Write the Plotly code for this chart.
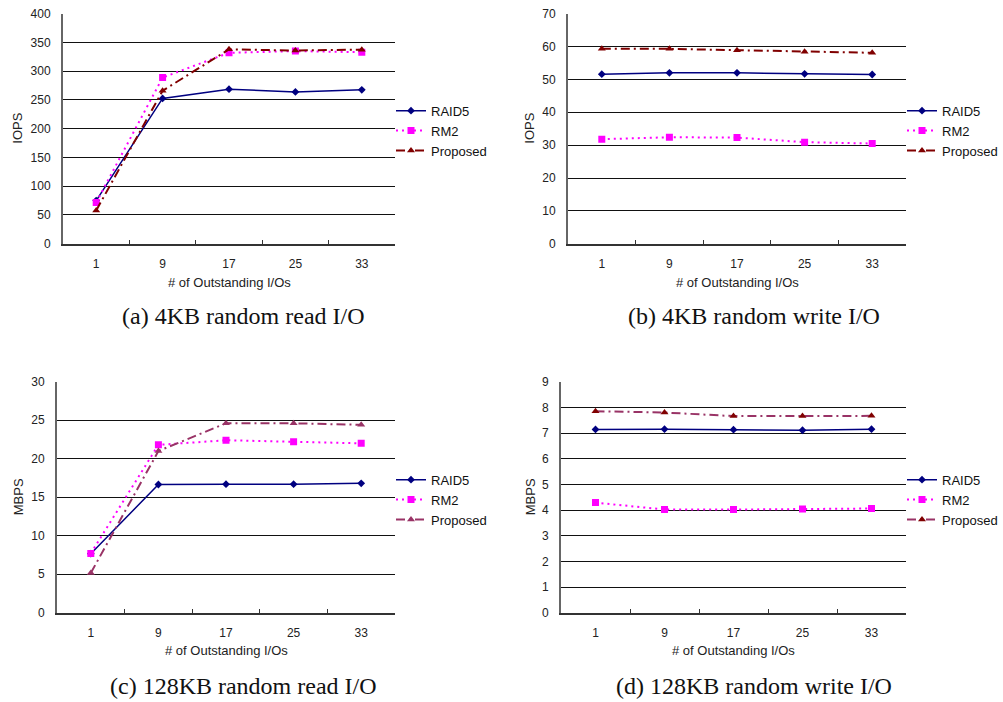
import plotly.graph_objects as go

W, H = 1003, 702

categories = ["1", "9", "17", "25", "33"]
series_names = ["RAID5", "RM2", "Proposed"]

# (a) 4KB random read - IOPS
a_raid5 = [75, 252.6, 268.8, 264, 267.6]
a_rm2 = [71.7, 289, 332, 335, 333]
a_prop = [57.8, 266, 338, 336, 337.5]
# (b) 4KB random write - IOPS
b_raid5 = [51.6, 52.0, 52.0, 51.7, 51.5]
b_rm2 = [31.8, 32.4, 32.3, 30.9, 30.5]
b_prop = [59.3, 59.3, 58.9, 58.4, 58.1]
# (c) 128KB random read - MBPS
c_raid5 = [7.67, 16.65, 16.7, 16.7, 16.8]
c_rm2 = [7.7, 21.8, 22.4, 22.2, 22.0]
c_prop = [5.16, 21.0, 24.6, 24.6, 24.4]
# (d) 128KB random write - MBPS
d_raid5 = [7.14, 7.15, 7.13, 7.11, 7.15]
d_rm2 = [4.29, 4.02, 4.02, 4.04, 4.06]
d_prop = [7.85, 7.80, 7.66, 7.66, 7.67]

captions = ["(a) 4KB random read I/O", "(b) 4KB random write I/O",
            "(c) 128KB random read I/O", "(d) 128KB random write I/O"]
ytitles = ["IOPS", "IOPS", "MBPS", "MBPS"]
xtitle = "# of Outstanding I/Os"
yranges = [(0, 400, 50), (0, 70, 10), (0, 30, 5), (0, 9, 1)]


def vy(y):
    # vertical pixel placement
    return (y - 6.3) / 0.98


# pixel boxes: left, right, top, bottom
boxes = [(63, 395, 13, 243), (568, 906, 13, 243), (57, 395, 381, 612), (561, 906, 381, 612)]
caption_dx = [14, 17, 17, 20]
caption_y = [315, 315, 685, 685]
xtitle_y = [282, 282, 650, 650]
ytitle_x = [18, 530, 18, 530]
legend_top = [95, 95, 464, 464]

data = [(a_raid5, a_rm2, a_prop), (b_raid5, b_rm2, b_prop),
        (c_raid5, c_rm2, c_prop), (d_raid5, d_rm2, d_prop)]

prop_line = ["#800000", "#800000", "#993366", "#993366"]
prop_marker = ["#800000", "#800000", "#993366", "#800000"]

SANS = "Liberation Sans, Arial, sans-serif"
SERIF = "Liberation Serif, DejaVu Serif, serif"

fig = go.Figure()
annotations = []
layout = dict(width=W, height=H, margin=dict(l=0, r=0, t=0, b=0),
              paper_bgcolor="white", plot_bgcolor="white", showlegend=True)

for i in range(4):
    l, r, t, b = boxes[i]
    xa = "x" if i == 0 else f"x{i+1}"
    ya = "y" if i == 0 else f"y{i+1}"
    lg = "legend" if i == 0 else f"legend{i+1}"
    r5, rm, pr = data[i]
    fig.add_trace(go.Scatter(x=categories, y=r5, name=series_names[0], mode="lines+markers",
                             line=dict(color="#000080", width=1.5),
                             marker=dict(symbol="diamond", size=6, color="#000080"),
                             xaxis=xa, yaxis=ya, legend=lg))
    fig.add_trace(go.Scatter(x=categories, y=rm, name=series_names[1], mode="lines+markers",
                             line=dict(color="#FF00FF", width=2, dash="2px,4px"),
                             marker=dict(symbol="square", size=7, color="#FF00FF"),
                             xaxis=xa, yaxis=ya, legend=lg))
    fig.add_trace(go.Scatter(x=categories, y=pr, name=series_names[2], mode="lines+markers",
                             line=dict(color=prop_line[i], width=2, dash="9px,4px,2px,4px"),
                             marker=dict(symbol="triangle-up", size=7, color=prop_marker[i]),
                             xaxis=xa, yaxis=ya, legend=lg))
    y0, y1, dt = yranges[i]
    xkey = "xaxis" if i == 0 else f"xaxis{i+1}"
    ykey = "yaxis" if i == 0 else f"yaxis{i+1}"
    layout[xkey] = dict(domain=[l / W, r / W], anchor=ya, type="category",
                        range=[-0.5, 4.5], tickson="boundaries", ticks="inside",
                        ticklen=4, tickcolor="#333", showline=True, linecolor="#333",
                        linewidth=1.5, showgrid=False, ticklabelstandoff=8,
                        tickfont=dict(family=SANS, size=12, color="#222"))
    layout[ykey] = dict(domain=[1 - vy(b) / H, 1 - vy(t) / H], anchor=xa, range=[y0, y1],
                        dtick=dt, tick0=0, showline=True, linecolor="#666", linewidth=2,
                        showgrid=True, gridcolor="#111", gridwidth=1.2, zeroline=False,
                        ticks="", ticklabelstandoff=8,
                        tickfont=dict(family=SANS, size=12, color="#222"))
    layout[lg] = dict(x=(r - 4) / W, xanchor="left",
                      y=1 - vy(legend_top[i]) / H, yanchor="top",
                      font=dict(family=SANS, size=13, color="#111"),
                      bgcolor="rgba(0,0,0,0)", tracegroupgap=0, itemwidth=30)
    cx = (l + r) / 2
    annotations.append(dict(text=xtitle, x=cx / W, y=1 - vy(xtitle_y[i]) / H,
                            xref="paper", yref="paper", xanchor="center", yanchor="middle",
                            showarrow=False, font=dict(family=SANS, size=13, color="#222")))
    annotations.append(dict(text=ytitles[i], x=ytitle_x[i] / W, y=1 - vy((t + b) / 2) / H,
                            xref="paper", yref="paper", xanchor="center", yanchor="middle",
                            textangle=-90, showarrow=False,
                            font=dict(family=SANS, size=13, color="#222")))
    annotations.append(dict(text=captions[i], x=(cx + caption_dx[i]) / W, y=1 - vy(caption_y[i]) / H,
                            xref="paper", yref="paper", xanchor="center", yanchor="middle",
                            showarrow=False,
                            font=dict(family=SERIF, size=24, color="#111")))

layout["annotations"] = annotations
fig.update_layout(**layout)
fig.write_html("out.html", config={"displayModeBar": False},
               post_script="document.body.style.margin='0px';document.documentElement.style.overflow='hidden';")
